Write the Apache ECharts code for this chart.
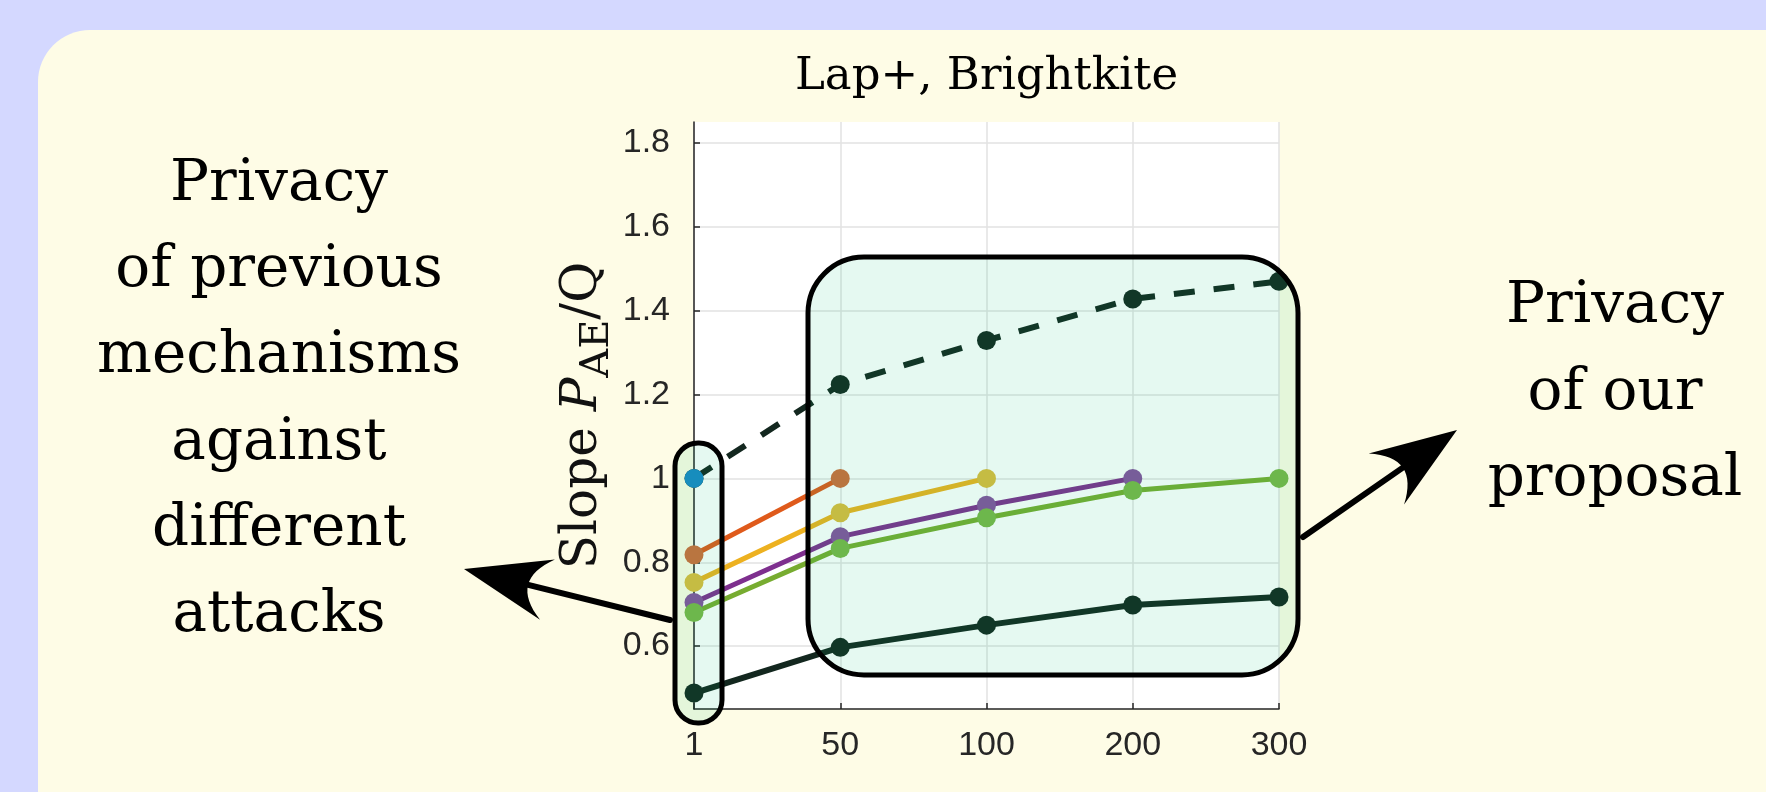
<!DOCTYPE html>
<html>
<head>
<meta charset="utf-8">
<script src="https://cdn.jsdelivr.net/npm/echarts@6/dist/echarts.min.js"></script>
<style>
html,body{margin:0;padding:0;background:#d4d8ff;}
#chart{width:1766px;height:792px;}
</style>
</head>
<body>
<div id="chart"></div>
<script>
// ---- data ----
const xCategories = ['1', '50', '100', '200', '300'];
const yTickLabels = ['0.6', '0.8', '1', '1.2', '1.4', '1.6', '1.8'];
const dashedBlack = [1.000, 1.224, 1.329, 1.428, 1.470];
const solidBlack  = [0.488, 0.597, 0.650, 0.698, 0.717];
const blueVals    = [1.000];
const orangeVals  = [0.818, 1.000];
const yellowVals  = [0.752, 0.918, 1.000];
const purpleVals  = [0.704, 0.861, 0.936, 1.000];
const greenVals   = [0.680, 0.833, 0.906, 0.971, 1.000];
const leftNote  = ['Privacy', 'of previous', 'mechanisms', 'against', 'different', 'attacks'];
const rightNote = ['Privacy', 'of our', 'proposal'];
const titleText = 'Lap+, Brightkite';

// ---- styles ----
const SERIF = '"DejaVu Serif", "Liberation Serif", serif';
const SANS = '"Liberation Sans", Arial, sans-serif';
const AX = '#262626';
const BLK = '#13271f';

function lineSeries(name, data, lineColor, markColor, width, dashed) {
  return {
    name: name, type: 'line', data: data,
    symbol: 'circle', symbolSize: 19, showSymbol: true,
    itemStyle: { color: markColor, borderWidth: 0 },
    lineStyle: { color: lineColor, width: width, type: dashed ? [21, 19] : 'solid' },
    emphasis: { disabled: true },
    z: 3
  };
}

const chart = echarts.init(document.getElementById('chart'), null, { renderer: 'canvas' });

const gridL = 694, gridR = 1279, gridT = 122, gridB = 709;

function arrowGraphics(S, T) {
  const L = 86, W = 31, N = 20;
  const dx = T[0] - S[0], dy = T[1] - S[1];
  const len = Math.hypot(dx, dy), ux = dx / len, uy = dy / len, nx = -uy, ny = ux;
  const base = [T[0] - ux * L, T[1] - uy * L];
  const B1 = [base[0] + nx * W, base[1] + ny * W];
  const B2 = [base[0] - nx * W, base[1] - ny * W];
  const notch = [T[0] - ux * (L - N), T[1] - uy * (L - N)];
  const ctrl = [2 * notch[0] - (B1[0] + B2[0]) / 2, 2 * notch[1] - (B1[1] + B2[1]) / 2];
  const pts = [T, B1];
  for (let i = 1; i < 16; i++) {
    const t = i / 16, a = (1 - t) * (1 - t), b = 2 * t * (1 - t), c = t * t;
    pts.push([a * B1[0] + b * ctrl[0] + c * B2[0], a * B1[1] + b * ctrl[1] + c * B2[1]]);
  }
  pts.push(B2);
  const shaftEnd = [T[0] - ux * (L - N - 4), T[1] - uy * (L - N - 4)];
  return [
    { type: 'line', z: 100, shape: { x1: S[0], y1: S[1], x2: shaftEnd[0], y2: shaftEnd[1] },
      style: { stroke: '#000', lineWidth: 6, lineCap: 'round' } },
    { type: 'polygon', z: 100, shape: { points: pts }, style: { fill: '#000' } }
  ];
}

function noteTexts(lines, cx, firstBaseline, step) {
  return lines.map((t, i) => ({
    type: 'text', z: 100, x: cx, y: firstBaseline + i * step - 0.346 * 58,
    style: { text: t, font: '58px ' + SERIF, fill: '#000',
      align: 'center', verticalAlign: 'middle', textAlign: 'center', textVerticalAlign: 'middle' }
  }));
}

const graphics = [
  { type: 'rect', z: -100, shape: { x: 38, y: 30, width: 1900, height: 900, r: 52 },
    style: { fill: '#fefce6' } },
  { type: 'rect', z: 90, shape: { x: 808, y: 257, width: 490, height: 418, r: 56 },
    style: { fill: 'rgba(0,200,120,0.10)', stroke: '#000', lineWidth: 5 } },
  { type: 'rect', z: 90, shape: { x: 675, y: 443, width: 47, height: 280, r: 23 },
    style: { fill: 'rgba(0,200,120,0.10)', stroke: '#000', lineWidth: 5 } }
].concat(arrowGraphics([670, 620], [464, 569]))
 .concat(arrowGraphics([1303, 537], [1457, 430]))
 .concat(noteTexts(leftNote, 279, 205, 86.2))
 .concat(noteTexts(rightNote, 1615, 327, 86.6));

const option = {
  animation: false,
  backgroundColor: '#d4d8ff',
  title: {
    text: titleText, left: (gridL + gridR) / 2, top: 55, padding: 0, textAlign: 'center',
    textStyle: { fontFamily: SERIF, fontSize: 45, fontWeight: 'normal', color: '#000' }
  },
  grid: {
    left: gridL, right: 1766 - gridR, top: gridT, bottom: 792 - gridB,
    show: true, backgroundColor: '#ffffff', borderWidth: 0, containLabel: false
  },
  xAxis: {
    type: 'category', data: xCategories, boundaryGap: false,
    axisLine: { show: true, lineStyle: { color: AX, width: 1.5 } },
    axisTick: { show: true, inside: true, length: 6, alignWithLabel: true, lineStyle: { color: AX, width: 1.5 } },
    axisLabel: { color: AX, fontFamily: SANS, fontSize: 34, margin: 20 },
    splitLine: { show: true, lineStyle: { color: '#e2e2e2', width: 1.5 } }
  },
  yAxis: {
    type: 'value', min: 0.45, max: 1.85, splitNumber: 7,
    axisLine: { show: true, lineStyle: { color: AX, width: 1.5 } },
    axisTick: { show: true, inside: true, length: 6, lineStyle: { color: AX, width: 1.5 } },
    axisLabel: {
      color: AX, fontFamily: SANS, fontSize: 34, margin: 24,
      showMinLabel: false, showMaxLabel: false,
      formatter: function (v) {
        const s = String(Math.round(v * 100) / 100);
        return yTickLabels.indexOf(s) >= 0 ? s : '';
      }
    },
    splitLine: { show: true, showMinLine: false, showMaxLine: false, lineStyle: { color: '#e2e2e2', width: 1.5 } },
    name: '{n|Slope }{i|P}{s|AE}{n|/Q}',
    nameLocation: 'middle', nameRotate: 90, nameGap: 76,
    nameTextStyle: {
      color: '#111', fontFamily: SERIF, fontSize: 50,
      rich: {
        n: { fontFamily: SERIF, fontSize: 50, color: '#111' },
        i: { fontFamily: SERIF, fontSize: 50, fontStyle: 'italic', color: '#111' },
        s: { fontFamily: SERIF, fontSize: 40, color: '#111', padding: [29, 0, 0, 0] }
      }
    }
  },
  series: [
    lineSeries('Dashed (black)', dashedBlack, BLK, BLK, 6, true),
    lineSeries('Solid (black)', solidBlack, BLK, BLK, 6, false),
    lineSeries('Blue', blueVals, '#0072bd', '#1a87c6', 5, false),
    lineSeries('Orange', orangeVals, '#df5a1b', '#cf6d3a', 5, false),
    lineSeries('Yellow', yellowVals, '#edb120', '#dcbb3e', 5, false),
    lineSeries('Purple', purpleVals, '#7e2f8e', '#85529e', 5, false),
    lineSeries('Green', greenVals, '#77ac30', '#7ab648', 5, false)
  ],
  graphic: { elements: graphics }
};
chart.setOption(option);
</script>
</body>
</html>
